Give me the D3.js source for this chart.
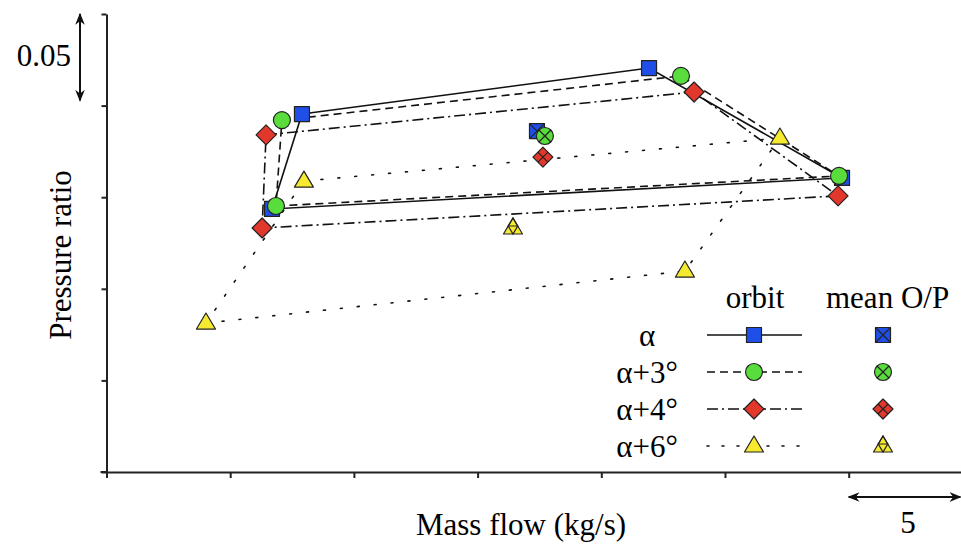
<!DOCTYPE html>
<html>
<head>
<meta charset="utf-8">
<script src="https://cdn.jsdelivr.net/npm/d3@7"></script>
<style>
  body { margin: 0; background: #fff; }
  svg { display: block; }
  svg text { font-family: "Times New Roman", Times, "Liberation Serif", "Nimbus Roman", "Noto Serif", "DejaVu Serif", serif; }
  .axis path, .axis line { stroke: #222; stroke-width: 2; }
</style>
</head>
<body>
<div id="chart"></div>
<script>
// Orbit corners (4 per case), plus the mean operating point of each case.
// Units: mass flow kg/s, pressure ratio (axes carry only a scale bar, no numbers).
var seriesNames = ["α", "α+3°", "α+4°", "α+6°"];

var flowA0 = [17.90, 31.93, 39.73, 16.69];
var prA0   = [1.1954, 1.2205, 1.1605, 1.1436];

var flowA3 = [17.09, 33.22, 39.61, 16.85];
var prA3   = [1.1921, 1.2162, 1.1616, 1.1452];

var flowA4 = [16.45, 33.75, 39.57, 16.29];
var prA4   = [1.1840, 1.2074, 1.1507, 1.1332];

var flowA6 = [17.98, 37.22, 33.38, 14.02];
var prA6   = [1.1588, 1.1823, 1.1097, 1.0813];

var meanFlow = [27.40, 27.72, 27.64, 26.43];
var meanPR   = [1.1861, 1.1834, 1.1719, 1.1332];

var flowTicks = [10, 15, 20, 25, 30, 35, 40, 45];
var prTicks   = [1.00, 1.05, 1.10, 1.15, 1.20, 1.25];

function pressure_chart(div_id) {
    "use strict";

    var width = 961,
        height = 548;

    var svg = d3.select(div_id).append("svg")
        .attr("width", width)
        .attr("height", height);

    var x = d3.scaleLinear().domain([10, 45]).range([106.5, 972.4]),
        y = d3.scaleLinear().domain([1.0, 1.25]).range([472, 14]);

    var colors = ["#1f4fe6", "#58dd3c", "#e2382c", "#f5ea30"],
        shapes = ["square", "circle", "diamond", "triangle"],
        dashes = [null, "8,5", "11,4,2,4", "2,15"];

    var flows = [flowA0, flowA3, flowA4, flowA6],
        prs = [prA0, prA3, prA4, prA6];

    var series = seriesNames.map(function(name, i) {
        return {
            name: name,
            color: colors[i],
            shape: shapes[i],
            dash: dashes[i],
            pts: flows[i].map(function(f, j) { return [f, prs[i][j]]; }),
            mean: [meanFlow[i], meanPR[i]]
        };
    });

    // axes
    svg.append("g")
        .attr("class", "axis")
        .attr("transform", "translate(0," + y(1.0) + ")")
        .call(d3.axisBottom(x).tickValues(flowTicks).tickSize(6).tickSizeOuter(0).tickFormat(""));

    svg.append("g")
        .attr("class", "axis")
        .attr("transform", "translate(" + x(10) + ",0)")
        .call(d3.axisLeft(y).tickValues(prTicks).tickSize(5).tickSizeOuter(0).tickFormat(""));

    svg.append("line")
        .attr("x1", x(10) - 6).attr("x2", x(10))
        .attr("y1", y(1.0)).attr("y2", y(1.0))
        .attr("stroke", "#222").attr("stroke-width", 2);

    // orbit loops
    var line = d3.line()
        .x(function(d) { return x(d[0]); })
        .y(function(d) { return y(d[1]); })
        .curve(d3.curveLinearClosed);

    svg.selectAll(".orbit")
        .data(series)
      .enter().append("path")
        .attr("class", "orbit")
        .attr("d", function(d) { return line(d.pts); })
        .attr("fill", "none")
        .attr("stroke", "#111")
        .attr("stroke-width", 1.6)
        .attr("stroke-linecap", function(d) { return d.shape === "triangle" ? "round" : "butt"; })
        .attr("stroke-dasharray", function(d) { return d.dash; });

    series.forEach(function(s) {
        s.pts.forEach(function(p) {
            drawMarker(svg, x(p[0]), y(p[1]), s, false);
        });
    });
    series.forEach(function(s) {
        drawMarker(svg, x(s.mean[0]), y(s.mean[1]), s, true);
    });

    // legend
    var legendY = [335, 372, 409, 446];
    svg.append("text").attr("x", 755).attr("y", 308)
        .attr("text-anchor", "middle").attr("font-size", 31).text("orbit");
    svg.append("text").attr("x", 826).attr("y", 308)
        .attr("font-size", 31).text("mean O/P");

    series.forEach(function(s, i) {
        var ly = legendY[i];
        svg.append("text").attr("x", 647).attr("y", ly + 11)
            .attr("text-anchor", "middle").attr("font-size", 31).text(s.name);
        svg.append("line")
            .attr("x1", 707).attr("x2", 802).attr("y1", ly).attr("y2", ly)
            .attr("stroke", "#111").attr("stroke-width", 1.6)
            .attr("stroke-linecap", s.shape === "triangle" ? "round" : "butt")
            .attr("stroke-dasharray", s.shape === "triangle" ? "2,13" : s.dash);
        drawMarker(svg, 754, ly, s, false);
        drawMarker(svg, 883, ly, s, true);
    });

    // scale bars
    var arrows = svg.append("defs");
    arrows.append("marker")
        .attr("id", "ah")
        .attr("viewBox", "0 0 10 10")
        .attr("refX", 9).attr("refY", 5)
        .attr("markerWidth", 6).attr("markerHeight", 6)
        .attr("orient", "auto-start-reverse")
        .attr("markerUnits", "strokeWidth")
      .append("path")
        .attr("d", "M0,1 L10,5 L0,9 L3,5 Z")
        .attr("fill", "#111");

    svg.append("line")
        .attr("x1", 80).attr("x2", 80)
        .attr("y1", y(1.25)).attr("y2", y(1.20) - 5)
        .attr("stroke", "#111").attr("stroke-width", 2)
        .attr("marker-start", "url(#ah)").attr("marker-end", "url(#ah)");
    svg.append("text").attr("x", 71).attr("y", 66)
        .attr("text-anchor", "end").attr("font-size", 31).text("0.05");

    svg.append("line")
        .attr("x1", x(40)).attr("x2", x(45) - 12)
        .attr("y1", 497).attr("y2", 497)
        .attr("stroke", "#111").attr("stroke-width", 2)
        .attr("marker-start", "url(#ah)").attr("marker-end", "url(#ah)");
    svg.append("text").attr("x", 908).attr("y", 533)
        .attr("text-anchor", "middle").attr("font-size", 31).text("5");

    // axis titles
    svg.append("text").attr("x", 521).attr("y", 535)
        .attr("text-anchor", "middle").attr("font-size", 31).text("Mass flow (kg/s)");
    svg.append("text")
        .attr("transform", "translate(71,255) rotate(-90)")
        .attr("text-anchor", "middle").attr("font-size", 31).text("Pressure ratio");

    function drawMarker(g, cx, cy, s, isMean) {
        var m = g.append("g").attr("transform", "translate(" + cx + "," + cy + ")"),
            ink = "#222", r, d, cross;
        if (s.shape === "circle") {
            r = 8.5;
            m.append("circle").attr("r", r)
                .attr("fill", s.color).attr("stroke", ink).attr("stroke-width", 1.2);
            var c = r * 0.707;
            cross = "M" + -c + "," + -c + "L" + c + "," + c + "M" + c + "," + -c + "L" + -c + "," + c;
        } else {
            if (s.shape === "square") {
                r = 7.5;
                d = "M" + -r + "," + -r + "H" + r + "V" + r + "H" + -r + "Z";
                cross = "M" + -r + "," + -r + "L" + r + "," + r + "M" + r + "," + -r + "L" + -r + "," + r;
            } else if (s.shape === "diamond") {
                r = 10;
                d = "M0," + -r + "L" + r + ",0L0," + r + "L" + -r + ",0Z";
                var h = r / 2;
                cross = "M" + h + "," + -h + "L" + -h + "," + h + "M" + -h + "," + -h + "L" + h + "," + h;
            } else {
                d = "M0,-10L9.5,6L-9.5,6Z";
                cross = "M4.75,-2L-4.75,-2L0,6ZM-4.75,-2L0,-10L4.75,-2";
            }
            m.append("path").attr("d", d)
                .attr("fill", s.color).attr("stroke", ink).attr("stroke-width", 1.2)
                .attr("stroke-linejoin", "round");
        }
        if (isMean) {
            m.append("path").attr("d", cross)
                .attr("fill", "none").attr("stroke", ink).attr("stroke-width", 1.2);
        }
    }
}

pressure_chart("#chart");
</script>
</body>
</html>
